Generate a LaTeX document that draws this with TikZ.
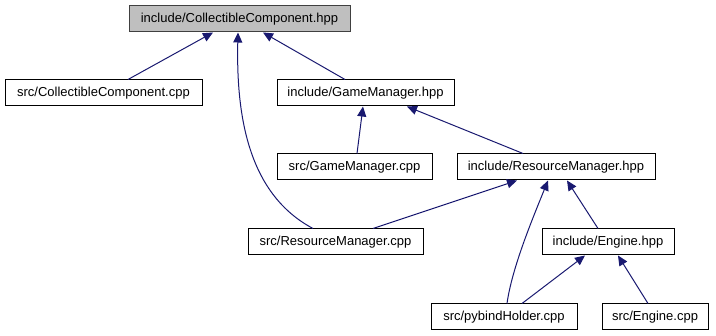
\documentclass[tikz,border=0pt]{standalone}
\usepackage{fontspec}
\setmainfont{Liberation Sans}
\usetikzlibrary{arrows.meta}
\definecolor{edgeblue}{HTML}{191970}
\definecolor{rootfill}{HTML}{BFBFBF}
\definecolor{rootdraw}{HTML}{404040}
\tikzset{
  filebox/.style={draw=black, fill=white, line width=1pt, inner sep=0pt,
    minimum height=26pt, font=\fontsize{13}{15}\selectfont},
  rootbox/.style={filebox, fill=rootfill, draw=rootdraw},
  dep/.style={draw=edgeblue, line width=1pt,
    {Triangle[length=10pt,width=9pt,fill=edgeblue]}-}
}
\begin{document}
\begin{tikzpicture}[x=1pt,y=-1pt]
\useasboundingbox (0,0) rectangle (716,336);
% header and its includers
\node[rootbox, minimum width=221pt] (cch) at (239.5,19) {include/CollectibleComponent.hpp};
\node[filebox, minimum width=197pt] (cccpp) at (103.5,93) {src/CollectibleComponent.cpp};
\node[filebox, minimum width=177pt] (gmh) at (365.5,93) {include/GameManager.hpp};
\node[filebox, minimum width=155pt] (gmcpp) at (354.5,167) {src/GameManager.cpp};
\node[filebox, minimum width=198pt] (rmh) at (556,167) {include/ResourceManager.hpp};
\node[filebox, minimum width=175pt] (rmcpp) at (335.5,242) {src/ResourceManager.cpp};
\node[filebox, minimum width=132pt] (engh) at (608,242) {include/Engine.hpp};
\node[filebox, minimum width=146pt] (pyb) at (504,317) {src/pybindHolder.cpp};
\node[filebox, minimum width=106pt] (engcpp) at (655,317) {src/Engine.cpp};
% include dependencies (arrow points at the included file)
\draw[dep] ([xshift=-26.5pt]cch.south) -- ([xshift=24.5pt]cccpp.north);
\draw[dep] ([xshift=23.5pt]cch.south) -- ([xshift=-20.5pt]gmh.north);
\draw[dep] ([xshift=-1.5pt]cch.south) .. controls (236,120) and (250,195) .. ([xshift=-22.5pt]rmcpp.north);
\draw[dep] ([xshift=-2.5pt]gmh.south) -- ([xshift=2.5pt]gmcpp.north);
\draw[dep] ([xshift=41.5pt]gmh.south) -- ([xshift=-33pt]rmh.north);
\draw[dep] ([xshift=-39pt]rmh.south) -- ([xshift=37.5pt]rmcpp.north);
\draw[dep] ([xshift=-8pt]rmh.south) .. controls (532,220) and (512,268) .. ([xshift=3pt]pyb.north);
\draw[dep] ([xshift=11pt]rmh.south) -- ([xshift=-10pt]engh.north);
\draw[dep] ([xshift=-23pt]engh.south) -- ([xshift=18pt]pyb.north);
\draw[dep] ([xshift=10pt]engh.south) -- ([xshift=-7pt]engcpp.north);
\end{tikzpicture}
\end{document}
